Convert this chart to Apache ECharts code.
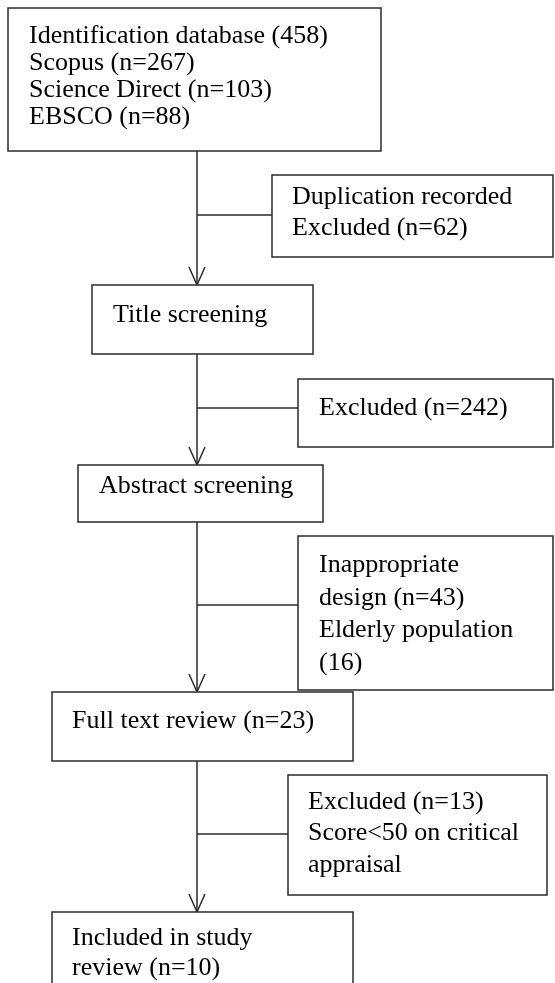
<!DOCTYPE html>
<html lang="en">
<head>
    <meta charset="UTF-8">
    <script src="https://cdn.jsdelivr.net/npm/echarts@6/dist/echarts.min.js"></script>
    <style>
        html, body { margin: 0; padding: 0; background: #fff; }
        #pic { width: 555px; height: 983px; }
    </style>
    <title>Flow diagram</title>
</head>
<body>
<div id="pic"></div>
<script type="text/javascript">
    // box texts
    var mainSteps = [
        ['Identification database (458)', 'Scopus (n=267)', 'Science Direct (n=103)', 'EBSCO (n=88)'],
        ['Title screening'],
        ['Abstract screening'],
        ['Full text review (n=23)'],
        ['Included in study', 'review (n=10)']
    ];
    var exclusions = [
        ['Duplication recorded', 'Excluded (n=62)'],
        ['Excluded (n=242)'],
        ['Inappropriate', 'design (n=43)', 'Elderly population', '(16)'],
        ['Excluded (n=13)', 'Score<50 on critical', 'appraisal']
    ];

    // layout in page units: x0, y0, x1, y1, text x, first line y, line gap
    var mainLayout = [
        [8, 8, 381, 151, 29, 36, 27],
        [92, 285, 313, 354, 113, 315, 0],
        [78, 465, 323, 522, 99, 486, 0],
        [52, 692, 353, 761, 72, 721, 0],
        [52, 912, 353, 1010, 72, 938, 30]
    ];
    var sideLayout = [
        [272, 175, 553, 257, 292, 197, 31],
        [298, 379, 553, 447, 319, 408, 0],
        [298, 536, 553, 690, 319, 565, 32.7],
        [288, 775, 547, 895, 308, 802, 31.5]
    ];
    var branchY = [215, 408, 605, 834];
    var spineX = 197;

    var font = '26px "Liberation Serif", "Times New Roman", serif';
    var stroke = '#2a2a2a';

    var boxData = [];
    mainLayout.forEach(function (b, i) { boxData.push(b.concat([i, 0])); });
    sideLayout.forEach(function (b, i) { boxData.push(b.concat([i, 1])); });

    // connectors: x0, y0, x1, y1, arrow
    var linkData = [];
    for (var i = 0; i < mainLayout.length - 1; i++) {
        linkData.push([spineX, mainLayout[i][3], spineX, mainLayout[i + 1][1], 1]);
    }
    sideLayout.forEach(function (b, i) {
        linkData.push([spineX, branchY[i], b[0], branchY[i], 0]);
    });

    function renderBox(params, api) {
        var p0 = api.coord([api.value(0), api.value(1)]);
        var p1 = api.coord([api.value(2), api.value(3)]);
        var lines = api.value(8) ? exclusions[api.value(7)] : mainSteps[api.value(7)];
        var children = [{
            type: 'rect',
            shape: { x: p0[0], y: p0[1], width: p1[0] - p0[0], height: p1[1] - p0[1] },
            style: { fill: '#fff', stroke: stroke, lineWidth: 1.5 }
        }];
        lines.forEach(function (t, k) {
            var pt = api.coord([api.value(4), api.value(5) + k * api.value(6)]);
            children.push({
                type: 'text',
                style: { text: t, x: pt[0], y: pt[1], font: font, fill: '#000', align: 'left', verticalAlign: 'middle' }
            });
        });
        return { type: 'group', children: children };
    }

    function renderLink(params, api) {
        var a = api.coord([api.value(0), api.value(1)]);
        var b = api.coord([api.value(2), api.value(3)]);
        var children = [{
            type: 'line',
            shape: { x1: a[0], y1: a[1], x2: b[0], y2: b[1] },
            style: { stroke: stroke, lineWidth: 1.5 }
        }];
        if (api.value(4)) {
            children.push({
                type: 'polyline',
                shape: { points: [[b[0] - 8, b[1] - 18], [b[0], b[1]], [b[0] + 8, b[1] - 18]] },
                style: { stroke: stroke, lineWidth: 1.5, fill: null }
            });
        }
        return { type: 'group', children: children };
    }

    var chart = echarts.init(document.getElementById('pic'));
    var option = {
        animation: false,
        grid: { left: 0, right: 0, top: 0, bottom: 0 },
        xAxis: { type: 'value', min: 0, max: 555, show: false },
        yAxis: { type: 'value', min: 0, max: 983, inverse: true, show: false },
        series: [
            { type: 'custom', renderItem: renderLink, data: linkData, clip: true, z: 1 },
            { type: 'custom', renderItem: renderBox, data: boxData, clip: true, z: 2 }
        ]
    };
    chart.setOption(option);
</script>
</body>
</html>
